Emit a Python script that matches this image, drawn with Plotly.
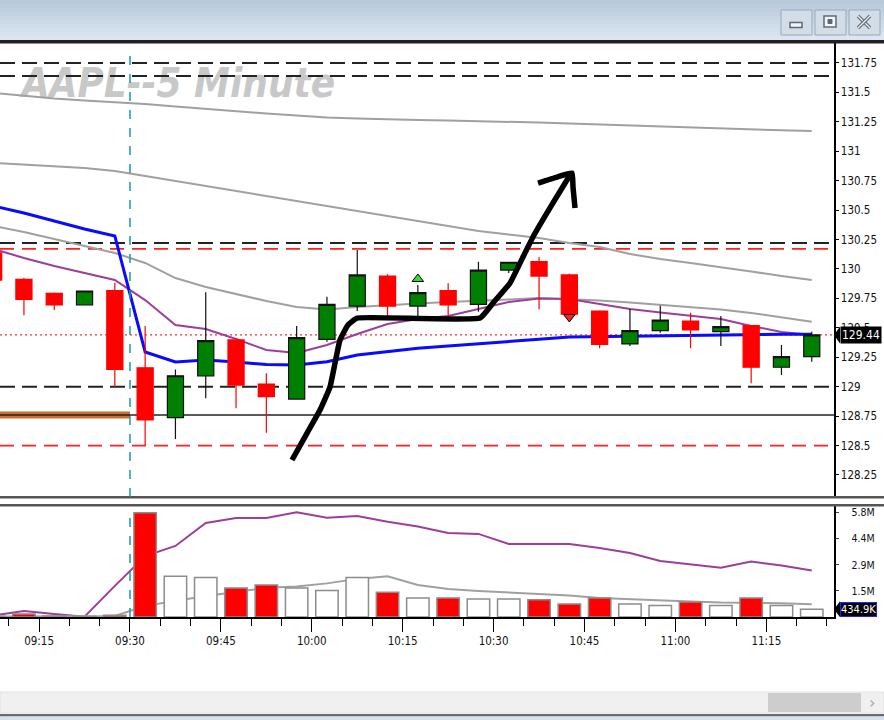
import plotly.graph_objects as go

# ---------------- data ----------------
times = ["09:05", "09:10", "09:15", "09:20", "09:25", "09:30", "09:35", "09:40", "09:45", "09:50",
         "09:55", "10:00", "10:05", "10:10", "10:15", "10:20", "10:25", "10:30", "10:35", "10:40",
         "10:45", "10:50", "10:55", "11:00", "11:05", "11:10", "11:15", "11:20"]
opens = [130.136, 129.912, 129.793, 129.694, 129.816, 129.161, 128.737, 129.091, 129.397, 129.023,
         128.895, 129.402, 129.685, 129.940, 129.685, 129.816, 129.700, 129.991, 130.062, 129.949,
         129.643, 129.363, 129.476, 129.558, 129.468, 129.518, 129.165, 129.255]
highs = [130.180, 129.926, 129.800, 129.815, 129.884, 129.516, 129.147, 129.802, 129.410, 129.114,
         129.516, 129.764, 130.161, 129.955, 129.864, 129.878, 130.062, 130.060, 130.099, 129.960,
         129.650, 129.660, 129.688, 129.629, 129.600, 129.520, 129.354, 129.467]
lows = [129.880, 129.606, 129.651, 129.694, 128.995, 128.505, 128.555, 128.901, 128.816, 128.609,
        128.890, 129.382, 129.643, 129.589, 129.589, 129.590, 129.637, 129.965, 129.657, 129.610,
        129.326, 129.345, 129.459, 129.326, 129.345, 129.029, 129.100, 129.212]
closes = [129.906, 129.742, 129.694, 129.813, 129.147, 128.717, 129.093, 129.391, 129.014, 128.915,
          129.416, 129.700, 129.949, 129.685, 129.799, 129.694, 129.991, 130.057, 129.940, 129.617,
          129.360, 129.476, 129.566, 129.483, 129.511, 129.165, 129.255, 129.440]
volumes = [40000, 170000, 50000, 30000, 100000, 5800000, 2260000, 2190000, 1610000, 1780000,
           1610000, 1480000, 2200000, 1370000, 1060000, 1060000, 1000000, 1000000, 960000, 720000,
           1060000, 720000, 645000, 830000, 645000, 1060000, 645000, 434900]

ma_gray_slow = [131.495, 131.470, 131.448, 131.431, 131.419, 131.402, 131.380, 131.359, 131.338, 131.321,
                131.304, 131.287, 131.278, 131.270, 131.266, 131.261, 131.257, 131.251, 131.244, 131.236,
                131.227, 131.219, 131.210, 131.202, 131.193, 131.185, 131.178, 131.172]
ma_gray_mid = [130.900, 130.888, 130.875, 130.858, 130.832, 130.790, 130.747, 130.705, 130.662, 130.620,
               130.578, 130.535, 130.493, 130.450, 130.408, 130.365, 130.323, 130.293, 130.263, 130.221,
               130.187, 130.127, 130.085, 130.051, 130.017, 129.979, 129.940, 129.906]
ma_gray_fast = [130.365, 130.314, 130.255, 130.195, 130.136, 130.051, 129.923, 129.847, 129.787, 129.728,
                129.677, 129.656, 129.677, 129.694, 129.707, 129.719, 129.728, 129.741, 129.753, 129.745,
                129.732, 129.715, 129.694, 129.677, 129.656, 129.626, 129.588, 129.552]
ma_purple = [130.170, 130.093, 130.025, 129.966, 129.906, 129.736, 129.524, 129.490, 129.405, 129.312,
             129.286, 129.354, 129.448, 129.533, 129.575, 129.600, 129.660, 129.719, 129.749, 129.745,
             129.702, 129.660, 129.630, 129.600, 129.575, 129.516, 129.465, 129.439]
vwap_blue = [130.535, 130.476, 130.408, 130.340, 130.280, 129.295, 129.210, 129.227, 129.210, 129.188,
             129.184, 129.212, 129.269, 129.297, 129.326, 129.346, 129.363, 129.382, 129.403, 129.422,
             129.425, 129.431, 129.435, 129.439, 129.443, 129.445, 129.445, 129.445]

vol_ma_purple = [0.09, 0.34, 0.17, 0.02, 1.73, 3.39, 3.95, 5.23, 5.51, 5.51,
                 5.82, 5.52, 5.62, 5.30, 5.03, 4.67, 4.62, 4.06, 4.06, 4.06,
                 3.84, 3.56, 3.12, 2.95, 2.74, 3.08, 2.86, 2.58]          # millions
vol_ma_gray = [0.03, 0.04, 0.03, 0.03, 0.06, 0.62, 0.89, 1.17, 1.39, 1.62,
               1.69, 1.87, 2.12, 2.26, 1.78, 1.56, 1.45, 1.37, 1.27, 1.20,
               1.06, 0.98, 0.91, 0.86, 0.80, 0.80, 0.77, 0.71]             # millions

black_dashed_levels = [131.75, 131.64, 130.22, 129.00]
red_dashed_levels = [130.17, 128.50]
solid_level = 128.76
session_open = "09:30"

signal_up_time, signal_up_price = ["10:15"], [129.915]
signal_dn_time, signal_dn_price = ["10:40"], [129.592]

arrow_times = ["09:56:44", "09:59:13", "10:01:21", "10:03:00", "10:03:50", "10:04:39", "10:05:58",
               "10:07:28", "10:27:46", "10:29:54", "10:32:43", "10:34:51", "10:36:30", "10:39:48",
               "10:42:37", None, "10:37:20", "10:40:28", "10:42:56", "10:43:06", "10:43:26"]
arrow_prices = [128.377, 128.606, 128.802, 128.997, 129.201, 129.397, 129.524, 129.583, 129.583,
                129.711, 129.881, 130.102, 130.272, 130.561, 130.798, None, 130.730, 130.781,
                130.815, 130.696, 130.518]

price_tick_labels = ["128.25", "128.5", "128.75", "129", "129.25", "129.5", "129.75", "130",
                     "130.25", "130.5", "130.75", "131", "131.25", "131.5", "131.75"]
vol_tick_labels = ["1.5M", "2.9M", "4.4M", "5.8M"]
time_tick_labels = ["09:15", "09:30", "09:45", "10:00", "10:15", "10:30", "10:45", "11:00", "11:15"]
title_text = "AAPL--5 Minute"

# ---------------- helpers ----------------
W, H = 884, 720
NARROW = "DejaVu Sans Condensed, Liberation Sans Narrow, sans-serif"
BAR_MIN = 5


def to_min(t):
    parts = [int(p) for p in t.split(":")]
    while len(parts) < 3:
        parts.append(0)
    return parts[0] * 60 + parts[1] + parts[2] / 60.0


xc = [to_min(t) + BAR_MIN / 2 for t in times]
XR = [548.55, 686.17]
YR = [128.063, 131.928]
VR = [0, 6.228e6]


def px(x):
    return x / W


def py(y):
    return 1 - y / H


def prect(x0, y0, x1, y1, fill, line=None, lw=0):
    return dict(type="rect", xref="paper", yref="paper", x0=px(x0), x1=px(x1), y0=py(y1), y1=py(y0),
                fillcolor=fill, line=dict(width=lw, color=line or fill), layer="above")


fig = go.Figure()

# --- base price layer (under candles) ---
fig.add_trace(go.Scatter(
    x=[XR[0] + (XR[1] - XR[0]) * 0.026], y=[YR[1] - (YR[1] - YR[0]) * 0.098],
    mode="text", text=[title_text], textposition="middle right",
    textfont=dict(family=NARROW, size=40, color="#c8c8c8", weight="bold", style="italic"),
    hoverinfo="skip", xaxis="x", yaxis="y"))

fig.add_trace(go.Scatter(x=[XR[0], to_min(session_open)], y=[solid_level, solid_level], mode="lines",
                         line=dict(color="#cc6a30", width=7), xaxis="x", yaxis="y", hoverinfo="skip"))
for lv in black_dashed_levels:
    fig.add_trace(go.Scatter(x=XR, y=[lv, lv], mode="lines", line=dict(color="#222222", width=2, dash="15px,7px"),
                             xaxis="x", yaxis="y", hoverinfo="skip"))
for lv in red_dashed_levels:
    fig.add_trace(go.Scatter(x=XR, y=[lv, lv], mode="lines", line=dict(color="#ff2020", width=1.8, dash="14px,8px"),
                             xaxis="x", yaxis="y", hoverinfo="skip"))
fig.add_trace(go.Scatter(x=XR, y=[solid_level, solid_level], mode="lines", line=dict(color="#222222", width=1.6),
                         xaxis="x", yaxis="y", hoverinfo="skip"))
fig.add_trace(go.Scatter(x=XR, y=[closes[-1], closes[-1]], mode="lines",
                         line=dict(color="#ff3030", width=1.2, dash="2px,3px"), xaxis="x", yaxis="y", hoverinfo="skip"))

for arr, col, w in [(ma_gray_slow, "#a0a0a0", 2), (ma_gray_mid, "#a0a0a0", 2), (ma_gray_fast, "#a0a0a0", 2),
                    (ma_purple, "#9b3f9b", 2), (vwap_blue, "#0a0aff", 3)]:
    fig.add_trace(go.Scatter(x=xc, y=arr, mode="lines", line=dict(color=col, width=w),
                             xaxis="x", yaxis="y", hoverinfo="skip"))

# --- overlay price layer: candles, signals, hand-drawn arrow ---
fig.add_trace(go.Candlestick(
    x=xc, open=opens, high=highs, low=lows, close=closes, xaxis="x", yaxis="y3",
    increasing=dict(line=dict(color="#111111", width=1.2), fillcolor="#008000"),
    decreasing=dict(line=dict(color="#ff0000", width=1.2), fillcolor="#ff0000"),
    whiskerwidth=0, hoverinfo="skip"))
fig.add_trace(go.Scatter(x=[to_min(t) + BAR_MIN / 2 for t in signal_up_time], y=signal_up_price, mode="markers",
                         marker=dict(symbol="triangle-up", size=10, color="#33dd33", line=dict(color="black", width=1)),
                         xaxis="x", yaxis="y3", hoverinfo="skip"))
fig.add_trace(go.Scatter(x=[to_min(t) + BAR_MIN / 2 for t in signal_dn_time], y=signal_dn_price, mode="markers",
                         marker=dict(symbol="triangle-down", size=10, color="#ff2020", line=dict(color="black", width=1)),
                         xaxis="x", yaxis="y3", hoverinfo="skip"))
fig.add_trace(go.Scatter(x=[to_min(t) if t else None for t in arrow_times], y=arrow_prices, mode="lines",
                         line=dict(color="black", width=5.5, shape="spline", smoothing=0.35),
                         connectgaps=False, xaxis="x", yaxis="y3", hoverinfo="skip"))

# --- volume base layer (under bars) ---
fig.add_trace(go.Scatter(x=xc, y=[v * 1e6 for v in vol_ma_purple], mode="lines",
                         line=dict(color="#9b3f9b", width=2), xaxis="x", yaxis="y2", hoverinfo="skip"))
fig.add_trace(go.Scatter(x=xc, y=[v * 1e6 for v in vol_ma_gray], mode="lines",
                         line=dict(color="#a0a0a0", width=2), xaxis="x", yaxis="y2", hoverinfo="skip"))

# --- volume bars overlay ---
bar_colors = ["#ff0000" if c < o else "#ffffff" for o, c in zip(opens, closes)]
fig.add_trace(go.Bar(x=xc, y=volumes, marker=dict(color=bar_colors, line=dict(color="#8c8c8c", width=1.5)),
                     width=BAR_MIN * 0.74, xaxis="x", yaxis="y4", hoverinfo="skip"))

# ---------------- layout ----------------
tick_vals = [to_min(t) for t in time_tick_labels]
price_tick_vals = [float(t) for t in price_tick_labels]
vmax = max(volumes)
vol_tick_vals = [vmax * (i + 1) / 4 for i in range(4)]

shapes = []
# window title bar gradient
top_c, bot_c = (0xb8, 0xc9, 0xda), (0xdb, 0xe6, 0xf2)
nb = 10
for i in range(nb):
    f = i / (nb - 1)
    c = tuple(int(top_c[k] + (bot_c[k] - top_c[k]) * f) for k in range(3))
    shapes.append(prect(0, 40 * i / nb, W, 40 * (i + 1) / nb + 0.5, "rgb(%d,%d,%d)" % c))
shapes.append(prect(0, 40, W, 43.5, "#222222"))
# window buttons
for x0, x1 in [(781, 812), (815, 846), (849, 880)]:
    shapes.append(dict(type="rect", xref="paper", yref="paper", x0=px(x0), x1=px(x1), y0=py(35), y1=py(10),
                       fillcolor="#d3dde8", line=dict(color="#97a8ba", width=1), layer="above"))
shapes.append(dict(type="rect", xref="paper", yref="paper", x0=px(790), x1=px(802), y0=py(27.5), y1=py(22.5),
                   fillcolor="#f4f6f8", line=dict(color="#5d6976", width=1.5), layer="above"))
shapes.append(dict(type="rect", xref="paper", yref="paper", x0=px(824), x1=px(836), y0=py(27), y1=py(16),
                   fillcolor="#f4f6f8", line=dict(color="#5d6976", width=1.5), layer="above"))
shapes.append(dict(type="rect", xref="paper", yref="paper", x0=px(828), x1=px(832), y0=py(23.5), y1=py(19.5),
                   fillcolor="#5d6976", line=dict(color="#5d6976", width=1), layer="above"))
# close-button cross
for (a, b, c2, d) in [(858, 16, 870, 28), (858, 28, 870, 16)]:
    shapes.append(dict(type="line", xref="paper", yref="paper", x0=px(a), y0=py(b), x1=px(c2), y1=py(d),
                       line=dict(color="#5d6976", width=3.5), layer="above"))
    shapes.append(dict(type="line", xref="paper", yref="paper", x0=px(a), y0=py(b), x1=px(c2), y1=py(d),
                       line=dict(color="#eef2f6", width=1.2), layer="above"))
# panel separators
shapes.append(prect(0, 496, W, 498.5, "#555555"))
shapes.append(prect(0, 504, W, 506.5, "#555555"))
# session open vertical lines
x_open = to_min(session_open)
shapes.append(dict(type="line", xref="x", yref="y domain", x0=x_open, x1=x_open, y0=0, y1=0.985,
                   line=dict(color="#1a9c9c", width=1.5, dash="9px,9px"), layer="above"))
shapes.append(dict(type="line", xref="x", yref="y2 domain", x0=x_open, x1=x_open, y0=0, y1=0.94,
                   line=dict(color="#1a9c9c", width=1.5, dash="9px,9px"), layer="above"))
# last value pointers
pt = 834 / W
bx = 840 / W
lc = closes[-1]
dp = 8.5 / 117.7
shapes.append(dict(type="path", xref="paper", yref="y",
                   path="M %f,%f L %f,%f L %f,%f Z" % (pt, lc, bx, lc + dp, bx, lc - dp),
                   fillcolor="black", line=dict(color="black", width=0), layer="above"))
lv = volumes[-1]
dv = 8 * (VR[1] / 112.0)
shapes.append(dict(type="path", xref="paper", yref="y2",
                   path="M %f,%f L %f,%f L %f,%f Z" % (pt, lv, bx, lv + dv, bx, lv - dv),
                   fillcolor="black", line=dict(color="black", width=0), layer="above"))
# scrollbar + bottom frame
shapes.append(prect(0, 692, W, 713, "#f0f0f0", "#e2e2e2", 1))
shapes.append(prect(768, 693, 861, 712, "#cdcdcd"))
shapes.append(prect(0, 714, W, 716.5, "#6a6a6a"))
shapes.append(prect(0, 716.5, W, 720, "#d5e1ee"))

annotations = [
    dict(xref="paper", yref="y", x=bx, y=lc, xanchor="left", yanchor="middle", text="129.44", showarrow=False,
         font=dict(family=NARROW, size=12, color="white"), bgcolor="black", borderpad=1),
    dict(xref="paper", yref="y2", x=bx, y=lv, xanchor="left", yanchor="middle", text="434.9K", showarrow=False,
         font=dict(family=NARROW, size=11, color="white"), bgcolor="black", bordercolor="#2020ff",
         borderwidth=1, borderpad=0),
    dict(xref="paper", yref="paper", x=px(872), y=py(702.5), xanchor="center", yanchor="middle",
         text="\u203a", showarrow=False, font=dict(family="DejaVu Sans", size=16, color="#a6a6a6")),
]

axis_common = dict(showgrid=False, zeroline=False, fixedrange=True, automargin=False)

fig.update_layout(
    width=W, height=H, margin=dict(l=0, r=0, t=0, b=0),
    paper_bgcolor="white", plot_bgcolor="white", showlegend=False,
    boxgap=0.24, bargap=0.26,
    xaxis=dict(domain=[0, 834 / W], range=XR, anchor="y2", showline=True, linecolor="black", linewidth=1.5,
               tickmode="array", tickvals=tick_vals, ticktext=time_tick_labels,
               ticks="outside", ticklen=13, tickcolor="black", tickwidth=1,
               minor=dict(tickmode="linear", tick0=0, dtick=5, ticks="outside", ticklen=7, tickcolor="black",
                          tickwidth=1),
               tickfont=dict(family=NARROW, size=11.5, color="#111111"),
               rangeslider=dict(visible=False), **axis_common),
    yaxis=dict(domain=[py(497), py(42)], range=YR, side="right", anchor="x", showline=True, linecolor="black",
               linewidth=1.5, tickmode="array", tickvals=price_tick_vals, ticktext=price_tick_labels,
               ticks="outside", ticklen=3, tickcolor="black",
               tickfont=dict(family=NARROW, size=11.5, color="#111111"), **axis_common),
    yaxis2=dict(domain=[py(617), py(505)], range=VR, side="right", anchor="x", showline=True, linecolor="black",
                linewidth=1.5, tickmode="array", tickvals=vol_tick_vals, ticktext=vol_tick_labels,
                ticks="outside", ticklen=3, tickcolor="#444444", ticklabelstandoff=11,
                tickfont=dict(family=NARROW, size=10.5, color="#111111"), **axis_common),
    yaxis3=dict(overlaying="y", range=YR, visible=False, anchor="x", **axis_common),
    yaxis4=dict(overlaying="y2", range=VR, visible=False, anchor="x", **axis_common),
    shapes=shapes, annotations=annotations,
)

fig.write_html("out.html", config={"displayModeBar": False, "staticPlot": True},
               post_script="document.body.style.margin='0px';document.body.style.overflow='hidden';")
